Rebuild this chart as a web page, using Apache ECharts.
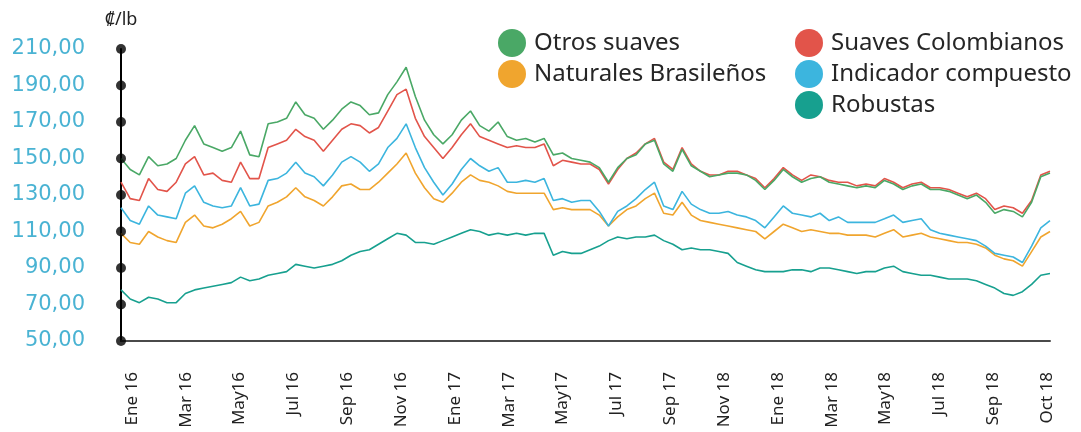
<!DOCTYPE html>
<html>
<head>
<meta charset="utf-8">
<script src="https://cdn.jsdelivr.net/npm/echarts@6/dist/echarts.min.js"></script>
<style>
html,body{margin:0;padding:0;background:#fff;}
#chart{width:1081px;height:432px;}
</style>
</head>
<body>
<div id="chart"></div>
<script>
// x labels shown under the axis (evenly spaced, as in the original)
const xLabels = ['Ene 16','Mar 16','May16','Jul 16','Sep 16','Nov 16','Ene 17','Mar 17','May17','Jul 17','Sep 17','Nov 18','Ene 18','Mar 18','May18','Jul 18','Sep 18','Oct 18'];
const yTicks = [50,70,90,110,130,150,170,190,210];

// sample dates (3 per month, Jan 2016 - Oct 2018)
const categories = [];
(function(){
  const days = ['01','11','21'];
  for (let y = 2016; y <= 2018; y++) {
    for (let m = 1; m <= 12; m++) {
      for (const d of days) {
        if (categories.length < 102) categories.push(y + '-' + String(m).padStart(2,'0') + '-' + d);
      }
    }
  }
})();

const otrosSuaves = [150,144,141,151,146,147,150,160,168,158,156,154,156,165,152,151,169,170,172,181,174,172,166,171,177,181,179,174,175,185,192,200,184,171,163,158,163,171,176,168,165,170,162,160,161,159,161,152,153,150,149,148,145,137,145,150,152,158,160,147,143,155,146,143,140,141,142,142,141,138,133,138,144,140,137,139,140,137,136,135,134,135,134,138,136,133,135,136,133,133,132,130,128,130,126,120,122,121,118,126,140,142];
const suavesColombianos = [137,128,127,139,133,132,137,147,151,141,142,138,137,148,139,139,156,158,160,166,162,160,154,160,166,169,168,164,167,176,185,188,172,162,156,150,156,163,169,162,160,158,156,157,156,156,158,146,149,148,147,147,144,136,144,150,153,158,161,148,144,156,147,143,141,141,143,143,141,139,134,139,145,141,138,141,140,138,137,137,135,136,135,139,137,134,136,137,134,134,133,131,129,131,128,122,124,123,120,127,141,143];
const indicadorCompuesto = [123,116,114,124,119,118,117,131,135,126,124,123,124,134,124,125,138,139,142,148,142,140,135,141,148,151,148,143,147,156,161,169,156,145,137,130,136,144,150,146,143,145,137,137,138,137,139,127,128,126,127,127,121,113,121,124,128,133,137,124,122,132,125,122,120,120,121,119,118,116,112,118,124,120,119,118,120,116,118,115,115,115,115,117,119,115,116,117,111,109,108,107,106,105,102,98,97,96,93,102,112,116];
const naturalesBrasilenos = [109,104,103,110,107,105,104,115,119,113,112,114,117,121,113,115,124,126,129,134,129,127,124,129,135,136,133,133,137,142,147,153,142,134,128,126,131,137,141,138,137,135,132,131,131,131,131,122,123,122,122,122,119,113,118,122,124,128,131,120,119,126,119,116,115,114,113,112,111,110,106,110,114,112,110,111,110,109,109,108,108,108,107,109,111,107,108,109,107,106,105,104,104,103,101,97,95,94,91,99,107,110];
const robustas = [78,73,71,74,73,71,71,76,78,79,80,81,82,85,83,84,86,87,88,92,91,90,91,92,94,97,99,100,103,106,109,108,104,104,103,105,107,109,111,110,108,109,108,109,108,109,109,97,99,98,98,100,102,105,107,106,107,107,108,105,103,100,101,100,100,99,98,93,91,89,88,88,88,89,89,88,90,90,89,88,87,88,88,90,91,88,87,86,86,85,84,84,84,83,81,79,76,75,77,81,86,87];

const COL = {
  green: '#4aa866',
  red: '#e2544a',
  orange: '#f0a52e',
  blue: '#3cb5de',
  teal: '#17a08f'
};

const chart = echarts.init(document.getElementById('chart'), null, {renderer:'canvas'});

function lineSeries(name, data, color, z) {
  return {
    name: name, type: 'line', data: data, showSymbol: false, symbol: 'none',
    xAxisIndex: 0, yAxisIndex: 0,
    lineStyle: {color: color, width: 1.6}, itemStyle: {color: color}, z: z, silent: true
  };
}

const legendText = {fontSize: 24, lineHeight: 28, color: '#262626', fontFamily: 'Noto Sans'};
const legendCommon = {
  orient: 'vertical', top: 29, itemGap: 3, icon: 'circle', padding: 0,
  itemWidth: 34, itemHeight: 28, textStyle: legendText, selectedMode: false
};

const option = {
  animation: false,
  backgroundColor: '#fff',
  grid: [
    {left: 121, right: 31, top: 49, bottom: 91, containLabel: false},
    {left: 132, right: 34, top: 49, bottom: 91, containLabel: false}
  ],
  legend: [
    Object.assign({}, legendCommon, {
      left: 498,
      data: [
        {name: 'Otros suaves', itemStyle: {color: COL.green}},
        {name: 'Naturales Brasileños', itemStyle: {color: COL.orange}}
      ]
    }),
    Object.assign({}, legendCommon, {
      left: 795,
      data: [
        {name: 'Suaves Colombianos', itemStyle: {color: COL.red}},
        {name: 'Indicador compuesto', itemStyle: {color: COL.blue}},
        {name: 'Robustas', itemStyle: {color: COL.teal}}
      ]
    })
  ],
  xAxis: [
    {
      type: 'category', data: categories, boundaryGap: false, gridIndex: 0,
      axisLine: {lineStyle: {color: '#4a4a4a', width: 2}},
      axisTick: {show: false},
      splitLine: {show: false},
      axisLabel: {show: false}
    },
    {
      type: 'category', data: xLabels, boundaryGap: false, gridIndex: 1,
      axisLine: {show: false},
      axisTick: {show: false},
      splitLine: {show: false},
      axisLabel: {
        rotate: 90, margin: 31, fontSize: 17, color: '#222', fontFamily: 'Noto Sans', interval: 0
      }
    }
  ],
  yAxis: [
    {
      type: 'value', min: 50, max: 210, interval: 20, gridIndex: 0,
      name: '₡/lb', nameLocation: 'end', nameGap: 20,
      nameTextStyle: {fontSize: 18, color: '#222', fontFamily: 'Noto Sans', align: 'center'},
      axisLine: {show: true, lineStyle: {color: '#000', width: 2}},
      axisTick: {show: false},
      splitLine: {show: false},
      axisLabel: {
        margin: 36, fontSize: 21, color: '#4ab3d3', fontFamily: 'DejaVu Sans',
        formatter: function(v){ return v.toFixed(2).replace('.', ','); }
      }
    },
    {
      type: 'value', min: 50, max: 210, gridIndex: 1, show: false
    }
  ],
  series: [
    lineSeries('Robustas', robustas, COL.teal, 2),
    lineSeries('Naturales Brasileños', naturalesBrasilenos, COL.orange, 3),
    lineSeries('Indicador compuesto', indicadorCompuesto, COL.blue, 4),
    lineSeries('Suaves Colombianos', suavesColombianos, COL.red, 5),
    lineSeries('Otros suaves', otrosSuaves, COL.green, 6),
    {
      name: 'ticks', type: 'scatter', xAxisIndex: 0, yAxisIndex: 0,
      data: yTicks.map(function(v){ return [0, v]; }),
      symbol: 'circle', symbolSize: 10, itemStyle: {color: '#000'}, clip: false, z: 10, silent: true
    }
  ]
};
chart.setOption(option);
</script>
</body>
</html>
